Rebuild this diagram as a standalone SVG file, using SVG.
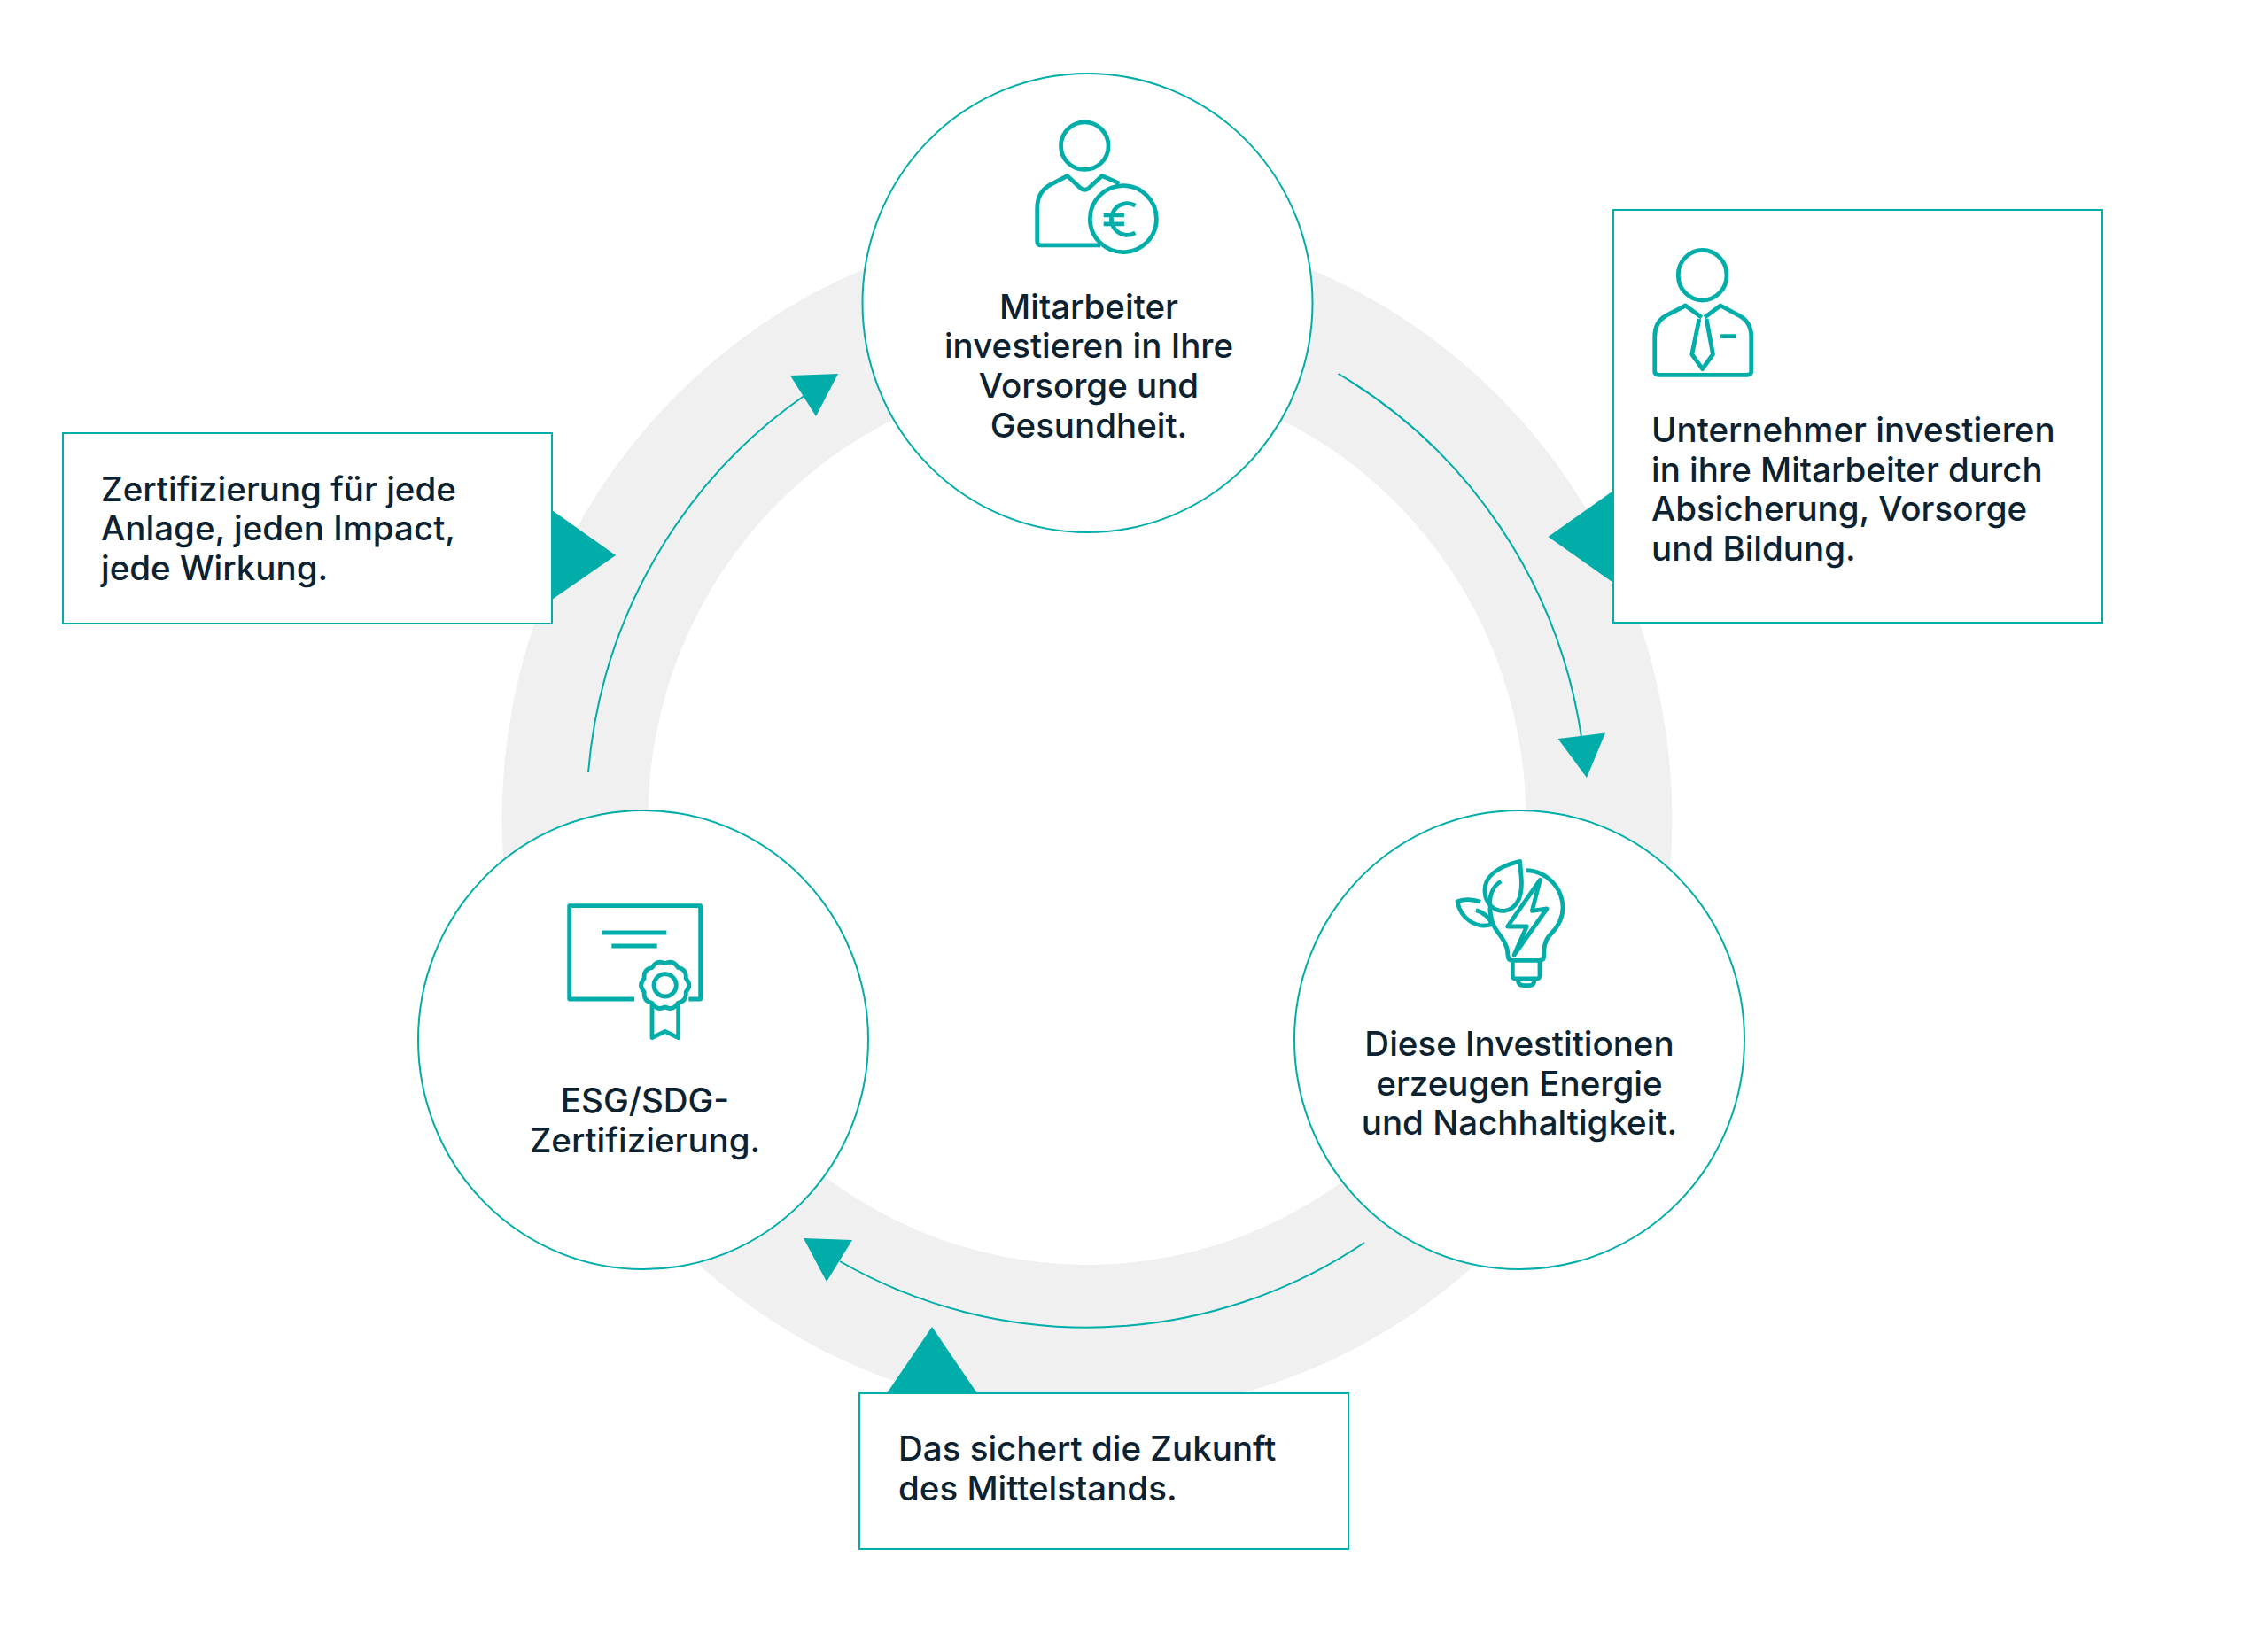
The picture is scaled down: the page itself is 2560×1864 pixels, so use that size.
<svg xmlns="http://www.w3.org/2000/svg" width="2560" height="1864" viewBox="0 0 2560 1864">
<style>
.t{font-family:"Inter","Liberation Sans",sans-serif;font-size:38.5px;fill:#0c2231;font-weight:450}
.m{text-anchor:middle}
.node{fill:#fff;stroke:#00ada9;stroke-width:2}
.box{fill:#fff;stroke:#00ada9;stroke-width:2}
.fl{fill:#00ada9;stroke:none}
.arc{fill:none;stroke:#00ada9;stroke-width:2}
.ic{fill:none;stroke:#00ada9;stroke-width:4.8;stroke-linejoin:round;vector-effect:non-scaling-stroke}
.ic *{vector-effect:non-scaling-stroke}
</style>
<rect width="2560" height="1864" fill="#fff"/>
<g id="ring">
<ellipse cx="1227" cy="925" rx="660.5" ry="672" fill="#f0f0f0"/>
<ellipse cx="1227" cy="925" rx="495.5" ry="503" fill="#fff"/>
</g>
<g id="connectors">
<path class="arc" d="M1510.500 422A566 574 0 0 1 1785 832"/>
<polygon class="fl" points="1758.500,834 1812,827.500 1791,878"/>
<path class="arc" d="M1540 1403A566 574 0 0 1 948 1424"/>
<polygon class="fl" points="907,1398 962,1400 933,1447"/>
<path class="arc" d="M664 872A566 574 0 0 1 907.500 447"/>
<polygon class="fl" points="892,424 946,422 921,470"/>
</g>
<g id="pointers">
<polygon class="fl" points="1821,554 1821,658 1747.500,606"/>
<polygon class="fl" points="1001,1573 1103,1573 1052,1498"/>
<polygon class="fl" points="623,576 623,677 695,627"/>
</g>
<g id="node-top">
<ellipse class="node" cx="1227.500" cy="342" rx="254" ry="259"/>
<g class="ic" transform="translate(960 60) scale(.35714)">
<circle cx="740" cy="293" r="75"/>
<path d="M850 412L795 388L752 428Q740 436 728 428L685 388L630 417Q590 440 590 490V595Q590 607 602 607H790"/>
<circle cx="862" cy="524" r="105"/>
<path d="M900 482A50 50 0 1 0 900 568M800 512H865M800 540H865"/>
</g>
<text class="t m" x="1229" y="359.500">Mitarbeiter</text>
<text class="t m" x="1229" y="404">investieren in Ihre</text>
<text class="t m" x="1229" y="449">Vorsorge und</text>
<text class="t m" x="1229" y="493.500">Gesundheit.</text>
</g>
<g id="node-right">
<ellipse class="node" cx="1715" cy="1174" rx="254" ry="259"/>
<g class="ic" transform="translate(1600 950) scale(.33333)">
<path d="M347 67C270 85 225 120 228 170C230 215 265 238 295 235C335 230 355 190 352 130Z"/>
<path d="M283 135C255 150 240 185 247 225"/>
<path d="M213 205Q175 190 135 203C145 260 200 300 255 280"/>
<path d="M198 233C225 240 245 262 255 285"/>
<path d="M368 98C440 100 492 160 492 225C492 265 470 295 450 315C430 335 428 360 428 390Q428 403 412 403H320Q306 403 306 385C306 350 285 325 270 305C255 285 247 260 245 225"/>
<path d="M322 403V455Q322 465 335 465H400Q414 465 414 455V403"/>
<path d="M340 468Q340 488 360 488H378Q396 488 396 468"/>
<path d="M415 130L305 288H370L327 385L438 228L388 235Z"/>
</g>
<text class="t m" x="1715" y="1191.500">Diese Investitionen</text>
<text class="t m" x="1715" y="1236.500">erzeugen Energie</text>
<text class="t m" x="1715" y="1281">und Nachhaltigkeit.</text>
</g>
<g id="node-left">
<ellipse class="node" cx="726" cy="1174" rx="254" ry="259"/>
<g class="ic" transform="translate(620 1000) scale(.33333)">
<path d="M288 384H68V68H512V384H472"/>
<path d="M178 159H397M211 204H365"/>
<path transform="translate(392 337)" d="M70.400 -22.900Q92 0 70.400 22.900Q74.400 54.100 43.500 59.900Q28.400 87.500 0 74Q-28.400 87.500 -43.500 59.900Q-74.400 54.100 -70.400 22.900Q-92 0 -70.400 -22.900Q-74.400 -54.100 -43.500 -59.900Q-28.400 -87.500 0 -74Q28.400 -87.500 43.500 -59.900Q74.400 -54.100 70.400 -22.900Z"/>
<circle cx="392" cy="337" r="38"/>
<path d="M348 400V515L392 493L437 515V400"/>
</g>
<text class="t m" x="728" y="1255.500">ESG/SDG-</text>
<text class="t m" x="728" y="1300.500">Zertifizierung.</text>
</g>
<g id="box-right">
<rect class="box" x="1821" y="237" width="552" height="466"/>
<g class="ic" transform="translate(1780 220) scale(.40816 .33333)">
<ellipse cx="347" cy="272" rx="67" ry="85"/>
<path d="M345 415L300 375L245 410Q215 432 215 480V598Q215 610 227 610H470Q482 610 482 598V480Q482 432 450 410L397 375L353 415"/>
<path d="M338 420L318 540L347 590L376 540L358 420"/>
<path d="M397 479H441"/>
</g>
<text class="t" x="1864" y="498.500">Unternehmer investieren</text>
<text class="t" x="1864" y="543.500">in ihre Mitarbeiter durch</text>
<text class="t" x="1864" y="588">Absicherung, Vorsorge</text>
<text class="t" x="1864" y="632.500">und Bildung.</text>
</g>
<g id="box-bottom">
<rect class="box" x="970" y="1573" width="552" height="176"/>
<text class="t" x="1014" y="1649">Das sichert die Zukunft</text>
<text class="t" x="1014" y="1694">des Mittelstands.</text>
</g>
<g id="box-left">
<rect class="box" x="71" y="489" width="552" height="215"/>
<text class="t" x="114" y="565.500">Zertifizierung für jede</text>
<text class="t" x="114" y="610">Anlage, jeden Impact,</text>
<text class="t" x="114" y="655">jede Wirkung.</text>
</g>
</svg>
